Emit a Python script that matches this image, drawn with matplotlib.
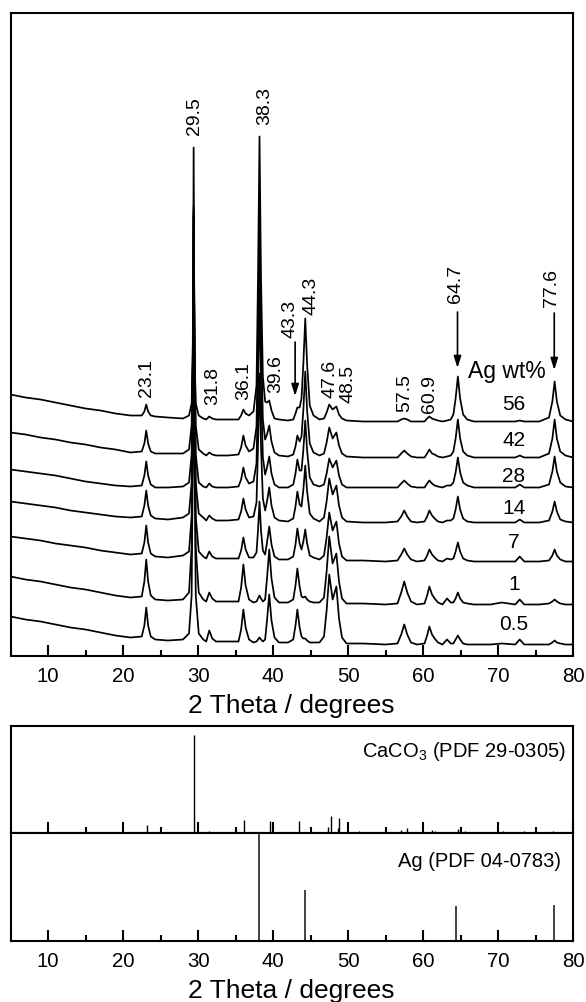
import matplotlib
matplotlib.use('Agg')
import matplotlib.pyplot as plt
from matplotlib.ticker import MultipleLocator

plt.rcParams['font.family'] = ['Liberation Sans', 'DejaVu Sans']
plt.rcParams['mathtext.fontset'] = 'custom'
plt.rcParams['mathtext.rm'] = 'Liberation Sans'
plt.rcParams['mathtext.it'] = 'Liberation Sans:italic'
plt.rcParams['mathtext.bf'] = 'Liberation Sans:bold'

# ---------------- data ----------------
two_theta = [5, 7, 9, 11, 13, 15, 17, 19, 21,
             22.5, 22.85, 23.1, 23.35, 23.7, 24.3,
             26, 28,
             28.8, 29.15, 29.3, 29.42, 29.55, 29.7, 30.1, 30.7,
             31.1, 31.5, 31.9, 32.4,
             34, 35.4, 35.75, 36.05, 36.35, 36.8,
             37.4, 37.8, 38.0, 38.2, 38.4, 38.65, 38.95,
             39.2, 39.5, 39.8, 40.2, 40.8,
             42.0, 42.7, 43.0, 43.25, 43.55, 43.8, 44.05, 44.3, 44.55, 44.9, 45.4, 46.2,
             46.8, 47.15, 47.5, 47.95, 48.45, 48.8, 49.2, 49.8,
             52, 55,
             56.6, 57.1, 57.5, 57.9, 58.4, 59.2,
             60.2, 60.55, 60.85, 61.2, 61.55, 62.0, 62.6,
             63.2, 63.7,
             64.05, 64.35, 64.65, 64.95, 65.35, 65.9, 66.8,
             69, 70.5,
             72.3, 72.9, 73.5,
             75.5,
             76.8, 77.25, 77.55, 77.85, 78.3, 79, 80]

I_56 = [27, 24, 22, 19, 16, 13, 11, 8, 6,
        6, 10, 17, 10, 6, 5,
        4, 3,
        6, 18, 61, 132, 61, 18, 6, 3,
        2, 5, 3, 2,
        2, 2, 6, 12, 8, 6,
        10, 36, 144, 285, 144, 45, 20,
        19, 21, 11, 3, 2,
        1, 2, 8, 14, 14, 23, 58, 103, 57, 16, 6, 2,
        3, 9, 17, 12, 15, 7, 3, 1,
        0, 0,
        0, 2, 3, 2, 0, 0,
        0, 3, 5, 3, 2, 1, 0,
        1, 2,
        7, 23, 45, 23, 7, 2, 0,
        0, 0,
        0, 1, 0,
        0,
        4, 20, 40, 20, 6, 2, 0]

I_42 = [25, 23, 20, 18, 15, 13, 10, 8, 5,
        6, 14, 27, 14, 6, 4,
        4, 4,
        8, 32, 111, 243, 111, 32, 8, 4,
        2, 5, 3, 2,
        2, 3, 10, 22, 12, 6,
        9, 31, 123, 244, 123, 38, 18,
        23, 32, 16, 5, 2,
        1, 3, 11, 22, 16, 21, 48, 86, 47, 14, 5, 2,
        4, 15, 30, 19, 25, 12, 4, 1,
        0, 0,
        0, 4, 7, 4, 1, 0,
        0, 4, 8, 4, 3, 1, 0,
        1, 2,
        6, 19, 38, 19, 6, 2, 0,
        0, 0,
        0, 2, 0,
        0,
        4, 19, 38, 19, 6, 2, 0]

I_28 = [18, 16, 14, 12, 9, 6, 4, 2, 1,
        2, 12, 26, 12, 3, 0,
        0, 1,
        5, 33, 123, 274, 123, 33, 5, 1,
        0, 4, 1, 0,
        0, 1, 8, 20, 10, 4,
        6, 24, 100, 199, 100, 30, 13,
        20, 31, 14, 3, 0,
        0, 3, 14, 28, 17, 17, 38, 67, 37, 10, 3, 1,
        3, 14, 29, 20, 27, 12, 3, 0,
        0, 0,
        0, 4, 7, 4, 1, 0,
        0, 4, 7, 4, 2, 1, 0,
        2, 2,
        5, 15, 30, 15, 5, 2, 0,
        0, 0,
        0, 3, 0,
        0,
        3, 16, 31, 16, 5, 1, 0]

I_14 = [21, 19, 17, 15, 12, 10, 8, 6, 5,
        6, 17, 32, 17, 7, 4,
        3, 5,
        9, 40, 143, 313, 143, 40, 9, 5,
        2, 7, 4, 2,
        2, 3, 11, 24, 13, 5,
        6, 20, 76, 149, 76, 24, 12,
        21, 35, 17, 5, 2,
        1, 4, 16, 31, 18, 16, 33, 57, 31, 9, 4, 1,
        5, 21, 44, 28, 37, 17, 5, 1,
        0, 0,
        1, 6, 12, 6, 1, 0,
        1, 6, 12, 7, 4, 1, 0,
        2, 2,
        4, 13, 26, 13, 4, 1, 0,
        0, 0,
        0, 3, 0,
        0,
        2, 11, 21, 11, 3, 1, 0]

I_7 = [25, 23, 21, 18, 16, 14, 11, 9, 7,
       8, 19, 36, 19, 8, 5,
       4, 6,
       10, 45, 162, 356, 162, 45, 10, 5,
       3, 10, 5, 3,
       3, 3, 11, 24, 12, 4,
       4, 9, 31, 60, 31, 11, 7,
       19, 35, 17, 5, 2,
       2, 5, 17, 33, 18, 12, 20, 32, 18, 6, 4, 2,
       6, 24, 49, 31, 40, 18, 5, 1,
       1, 0,
       1, 7, 13, 7, 2, 0,
       1, 6, 12, 7, 4, 1, 0,
       3, 2,
       3, 10, 19, 10, 3, 1, 0,
       0, 0,
       0, 5, 0,
       0,
       1, 6, 12, 6, 2, 0, 0]

I_1 = [28, 25, 23, 20, 17, 15, 12, 9, 7,
       8, 23, 45, 23, 9, 5,
       4, 5,
       12, 57, 207, 457, 207, 57, 12, 5,
       3, 12, 6, 3,
       3, 3, 17, 40, 19, 5,
       2, 3, 6, 9, 6, 3, 5,
       26, 55, 26, 7, 2,
       2, 5, 19, 36, 18, 8, 7, 8, 5, 3, 2, 2,
       7, 33, 68, 41, 51, 23, 6, 1,
       1, 0,
       1, 12, 23, 12, 3, 0,
       1, 9, 18, 10, 6, 2, 0,
       6, 2,
       2, 6, 12, 6, 2, 1, 0,
       0, 2,
       0, 5, 0,
       0,
       1, 3, 5, 3, 1, 0, 0]

I_05 = [28, 25, 23, 20, 17, 15, 12, 9, 7,
        8, 19, 37, 19, 8, 5,
        4, 5,
        11, 49, 175, 385, 175, 49, 11, 5,
        3, 14, 6, 3,
        3, 3, 15, 35, 17, 5,
        2, 3, 5, 7, 5, 3, 5,
        24, 50, 24, 7, 2,
        2, 5, 19, 35, 17, 8, 6, 6, 4, 2, 2, 2,
        8, 34, 70, 45, 58, 26, 7, 1,
        1, 0,
        1, 10, 20, 10, 2, 0,
        1, 9, 18, 10, 6, 2, 0,
        5, 1,
        1, 5, 9, 5, 1, 0, 0,
        0, 1,
        0, 5, 0,
        0,
        0, 2, 4, 2, 1, 0, 0]

sample_labels = ['56', '42', '28', '14', '7', '1', '0.5']
sample_series = [I_56, I_42, I_28, I_14, I_7, I_1, I_05]
sample_offsets = [234, 198, 168, 133, 94, 51, 11]

peak_labels = ['23.1', '29.5', '31.8', '36.1', '38.3', '39.6', '43.3', '44.3',
               '47.6', '48.5', '57.5', '60.9', '64.7', '77.6']

caco3_pos = [23.2, 29.5, 31.5, 36.1, 39.6, 43.4, 47.3, 47.7, 48.6, 48.8, 51.4,
             57.1, 57.9, 61.2, 61.6, 63.1, 64.7, 65.6, 67.3, 70.7, 73.5, 73.8,
             76.5, 77.3]
caco3_int = [8, 98, 2, 13, 12, 12, 6, 17, 5, 15, 2,
             3, 5, 3, 2, 1, 4, 2, 1, 2, 2, 1,
             1, 2]
ag_pos = [38.12, 44.28, 64.43, 77.47]
ag_int = [108, 51, 35, 36]

# ---------------- layout / positions ----------------
W, H = 586, 1002
fig = plt.figure(figsize=(W / 100, H / 100), dpi=100)

def frac(left, top, right, bottom):
    return [left / W, (H - bottom) / H, (right - left) / W, (bottom - top) / H]

ax1 = fig.add_axes(frac(10.5, 12.5, 573, 655.5))
ax2 = fig.add_axes(frac(10.5, 726, 573, 833))
ax3 = fig.add_axes(frac(10.5, 833, 573, 941))

for ax in (ax1, ax2, ax3):
    ax.set_xlim(5, 80)
    ax.xaxis.set_major_locator(MultipleLocator(10))
    ax.xaxis.set_minor_locator(MultipleLocator(5))
    ax.tick_params(axis='x', which='major', direction='in', length=8, width=1.5,
                   top=False, labelsize=14.7, pad=8)
    ax.tick_params(axis='x', which='minor', direction='in', length=4.3, width=1.5,
                   top=False)
    ax.set_yticks([])
    for sp in ax.spines.values():
        sp.set_linewidth(1.5)

ax1.set_ylim(0, 643)
ax2.set_ylim(0, 107)
ax3.set_ylim(0, 108)
ax2.tick_params(axis='x', which='both', labelbottom=False)

# traces
for series, off in zip(sample_series, sample_offsets):
    ax1.plot(two_theta, [v + off for v in series], color='black', lw=1.25,
             solid_joinstyle='round')

# sample labels
sample_label_y = [250.5, 215.5, 178.5, 147.5, 113.5, 71.5, 31.5]
for lab, y in zip(sample_labels, sample_label_y):
    ax1.text(72.1, y, lab, ha='center', va='center', fontsize=15)

ax1.text(71.2, 277.5, 'Ag wt%', ha='center', va='baseline', fontsize=16.5)

# peak labels
peak_label_x = [23.16, 29.47, 31.95, 36.1, 38.9, 40.4, 42.2, 45.05,
                47.6, 50.0, 57.6, 60.9, 64.27, 77.1]
peak_label_y = [258.5, 520.5, 250.5, 255.5, 530.5, 262.5, 317.5, 340.5,
                257.5, 252.5, 243.5, 242.5, 352.5, 348.5]
for lab, x, y in zip(peak_labels, peak_label_x, peak_label_y):
    ax1.text(x, y, lab, rotation=90, ha='center', va='bottom', fontsize=14)

# arrows
arrow_x = [42.95, 64.6, 77.5]
arrow_y0 = [313.5, 343.5, 342.5]
arrow_y1 = [259.5, 287.5, 285.5]
for x, y0, y1 in zip(arrow_x, arrow_y0, arrow_y1):
    ax1.annotate('', xy=(x, y1), xytext=(x, y0),
                 arrowprops=dict(arrowstyle='-|>,head_length=0.7,head_width=0.22',
                                 color='black', lw=1.2, shrinkA=0, shrinkB=0))

# reference sticks
ax2.vlines(caco3_pos, 0, caco3_int, color='black', lw=1.0)
ax3.vlines(ag_pos, 0, ag_int, color='#333333', lw=1.3)

ax2.text(79.1, 76, r'CaCO$_3$ (PDF 29-0305)', ha='right', va='baseline', fontsize=14.5)
ax3.text(78.4, 74, 'Ag (PDF 04-0783)', ha='right', va='baseline', fontsize=14.5)

# x labels
fig.text((10.5 + 562.5 / 2) / W, 1 - 713 / H, '2 Theta / degrees', ha='center',
         va='baseline', fontsize=19)
fig.text((10.5 + 562.5 / 2) / W, 1 - 998 / H, '2 Theta / degrees', ha='center',
         va='baseline', fontsize=19)

fig.savefig('out.png', dpi=100)
